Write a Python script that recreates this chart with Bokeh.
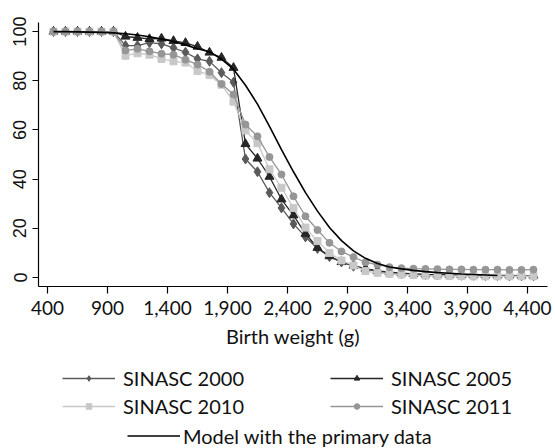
import math
from bokeh.plotting import figure
from bokeh.layouts import column
from bokeh.models import Legend, LegendItem, NumeralTickFormatter, FixedTicker, Range1d
from bokeh.embed import file_html
from bokeh.resources import INLINE

weights = list(range(450, 4451, 100))
sinasc_2000 = [100, 100, 100, 100, 100, 100,
               94.3, 94.3, 95.5, 95.0, 93.4, 91.6, 88.9, 87.9, 83.3, 79.4,
               48.2, 43.0, 34.5, 28.3, 21.8, 16.5, 11.8, 8.5, 6.3, 4.6,
               3.5, 2.5, 2.0, 1.6, 1.4, 1.2, 1.1, 1.0, 0.9, 0.9,
               0.8, 0.8, 0.7, 0.7, 0.7]
sinasc_2005 = [100, 100, 100, 100, 100, 100,
               98.0, 97.5, 97.0, 97.2, 96.2, 95.4, 93.9, 91.5, 89.4, 85.3,
               54.3, 48.4, 41.0, 31.8, 25.3, 17.8, 12.1, 8.7, 6.3, 4.8,
               3.6, 2.7, 2.2, 1.8, 1.5, 1.3, 1.2, 1.1, 1.0, 1.0,
               0.9, 0.9, 0.9, 0.8, 0.8]
sinasc_2010 = [100, 100, 100, 100, 100, 100,
               90.2, 91.2, 90.6, 88.9, 87.9, 87.4, 84.0, 82.3, 78.4, 71.5,
               59.8, 54.6, 44.0, 36.5, 28.3, 20.3, 14.8, 10.0, 6.9, 4.9,
               2.6, 1.9, 1.5, 1.2, 1.0, 0.8, 0.7, 0.6, 0.6, 0.5,
               0.5, 0.5, 0.5, 0.5, 0.5]
sinasc_2011 = [100, 100, 100, 100, 100, 100,
               92.3, 93.0, 92.0, 91.0, 90.6, 88.6, 86.6, 83.7, 78.7, 74.4,
               62.2, 57.4, 49.0, 41.9, 33.0, 24.9, 19.3, 14.1, 10.6, 8.3,
               6.2, 5.2, 4.2, 3.8, 3.6, 3.5, 3.4, 3.3, 3.3, 3.2,
               3.2, 3.2, 3.1, 3.1, 3.2]

model_weights = list(range(450, 4151, 100))
model_values = [100, 100, 99.9, 99.8, 99.7, 99.5, 99.1, 98.6, 97.9, 97.0,
                96.0, 94.6, 93.0, 91.8, 88.8, 84.7, 78.2, 70.5, 61.5, 52.0,
                43.0, 34.5, 27.0, 20.3, 15.0, 10.8, 7.8, 5.7, 4.3, 3.5,
                2.9, 2.4, 2.0, 1.7, 1.4, 1.2, 1.0, 0.8]
model_label = "Model with the primary data"

x_ticks = [400, 900, 1400, 1900, 2400, 2900, 3400, 3900, 4400]
y_ticks = [0, 20, 40, 60, 80, 100]

series = [
    ("SINASC 2000", sinasc_2000, "diamond", 10, "#5a5a5a"),
    ("SINASC 2005", sinasc_2005, "triangle", 9, "#262626"),
    ("SINASC 2010", sinasc_2010, "square", 7, "#c8c8c8"),
    ("SINASC 2011", sinasc_2011, "circle", 7, "#969696"),
]

FONT = "Lato"
TEXT = "#111111"
W = 555
H_TOP = 355
H_LEG = 448 - H_TOP
FRAME_LEFT = 38

# ---- main chart ----
p = figure(width=W, height=H_TOP, output_backend="svg", toolbar_location=None,
           x_range=Range1d(325, 4567), y_range=Range1d(-3.66, 103.7),
           min_border_left=FRAME_LEFT, min_border_right=8, min_border_top=22,
           min_border_bottom=H_TOP - 286)
p.outline_line_color = None
p.grid.visible = False

for name, vals, marker, size, color in series:
    p.line(weights, vals, line_color=color, line_width=1.3)
    p.scatter(weights, vals, marker=marker, size=size, fill_color=color,
              line_color=color)
p.line(model_weights, model_values, line_color="black", line_width=1.6)

xa = p.xaxis[0]
xa.ticker = FixedTicker(ticks=x_ticks)
xa.formatter = NumeralTickFormatter(format="0,0")
xa.axis_label = "Birth weight (g)"
xa.axis_label_text_font = FONT
xa.axis_label_text_font_style = "normal"
xa.axis_label_text_font_size = "20px"
xa.axis_label_text_color = TEXT
xa.axis_label_standoff = 6
xa.major_label_text_font = FONT
xa.major_label_text_font_size = "19px"
xa.major_label_text_color = TEXT
xa.major_label_standoff = 7
xa.major_tick_out = 7
xa.major_tick_in = 0
xa.minor_tick_out = 0
xa.minor_tick_in = 0
xa.axis_line_width = 1.2
xa.major_tick_line_width = 1.2

ya = p.yaxis[0]
ya.ticker = FixedTicker(ticks=y_ticks)
ya.major_label_text_font = "Liberation Sans"
ya.major_label_text_font_size = "18px"
ya.major_label_text_color = TEXT
ya.major_label_orientation = "parallel"
ya.major_label_standoff = 6
ya.major_tick_out = 6
ya.major_tick_in = 0
ya.minor_tick_out = 0
ya.minor_tick_in = 0
ya.axis_line_width = 1.2
ya.major_tick_line_width = 1.2

# ---- legend panel (series drawn off-frame, only their legend samples show) ----
q = figure(width=W, height=H_LEG, output_backend="svg", toolbar_location=None,
           x_range=Range1d(0, 1), y_range=Range1d(0, 1),
           x_axis_location=None, y_axis_location=None,
           min_border_left=0, min_border_right=0, min_border_top=0,
           min_border_bottom=0)
q.outline_line_color = None
q.grid.visible = False

entries = {}
for name, vals, marker, size, color in series:
    lr = q.line(weights, vals, line_color=color, line_width=1.3)
    sr = q.scatter(weights, vals, marker=marker, fill_color=color, line_color=color)
    entries[name] = LegendItem(label=name, renderers=[lr, sr])
mr = q.line(model_weights, model_values, line_color="black", line_width=1.6)

# column-major order -> rows: (2000, 2005), (2010, 2011)
items = [entries["SINASC 2000"], entries["SINASC 2010"],
         entries["SINASC 2005"], entries["SINASC 2011"]]

common = dict(border_line_color=None, background_fill_alpha=0, padding=0,
              margin=0, label_text_font=FONT, label_text_font_size="20px",
              label_text_color=TEXT, label_height=19, glyph_width=53)

leg1 = Legend(items=items, ncols=2, spacing=4, label_standoff=8, glyph_height=14,
              label_width=203, location=(62 - FRAME_LEFT, H_LEG - 62.5), **common)
leg2 = Legend(items=[LegendItem(label=model_label, renderers=[mr])], glyph_height=19,
              label_standoff=3, location=(127 - FRAME_LEFT, 0.5), **common)
q.add_layout(leg1, "center")
q.add_layout(leg2, "center")

layout = column(p, q, spacing=0)
open("out.html", "w").write(file_html(layout, INLINE))
